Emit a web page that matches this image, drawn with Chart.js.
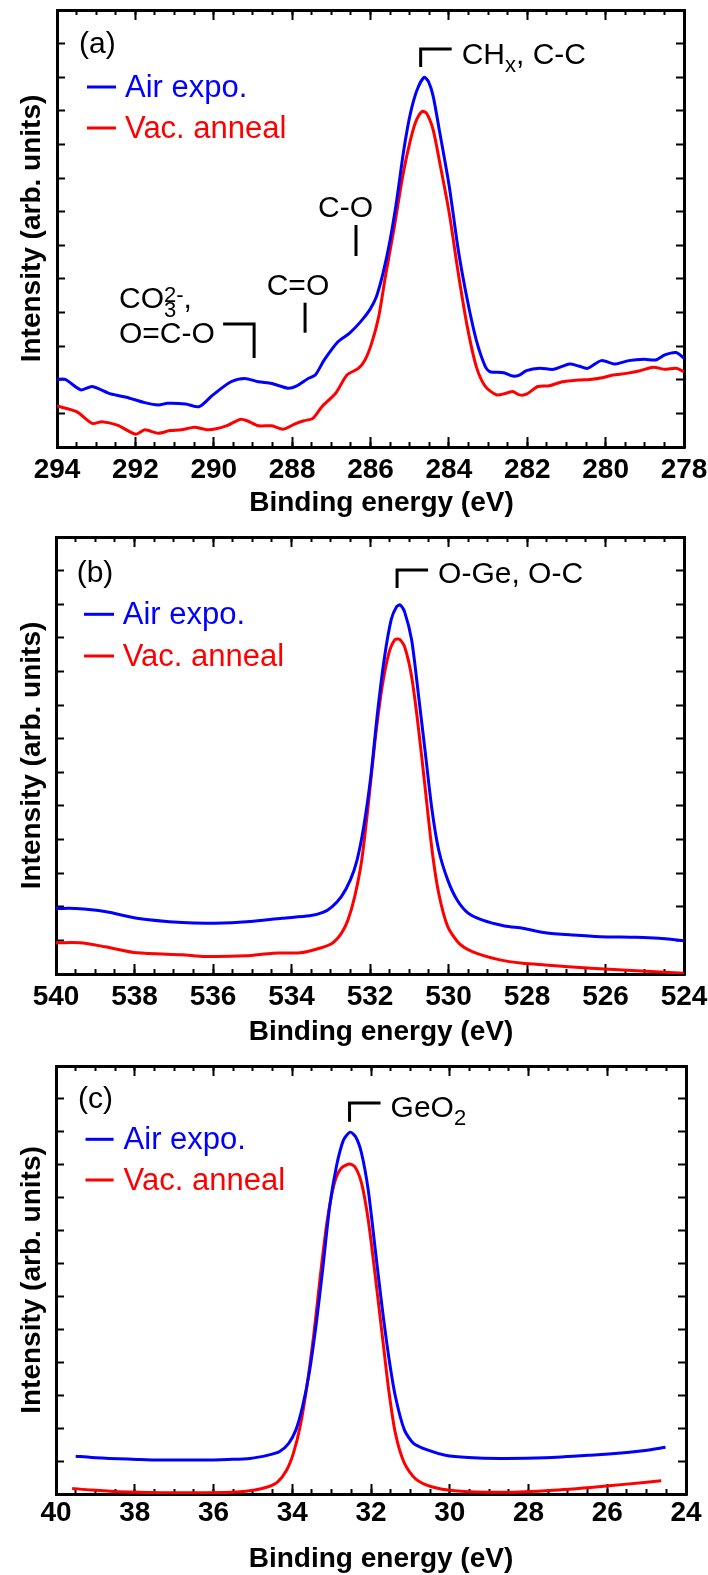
<!DOCTYPE html>
<html>
<head>
<meta charset="utf-8">
<script src="https://cdn.jsdelivr.net/npm/chart.js@4.4.1/dist/chart.umd.min.js"></script>
<style>
html,body{margin:0;padding:0;background:#fff;}
#wrap{position:relative;width:708px;height:1575px;overflow:hidden;background:#fff;}
canvas{position:absolute;left:0;}
</style>
</head>
<body>
<div id="wrap">
<canvas id="ca" width="708" height="520" style="top:0px;width:708px;height:520px"></canvas>
<canvas id="cb" width="708" height="535" style="top:520px;width:708px;height:535px"></canvas>
<canvas id="cc" width="708" height="530" style="top:1045px;width:708px;height:530px"></canvas>
</div>
<script>
// ---------- text ----------
const seriesNames = ['Air expo.', 'Vac. anneal'];
const panelLabels = ['(a)', '(b)', '(c)'];
const xTitle = 'Binding energy (eV)';
const yTitle = 'Intensity (arb. units)';

// ---------- tick labels ----------
const c1sTicks = [294, 292, 290, 288, 286, 284, 282, 280, 278];
const o1sTicks = [540, 538, 536, 534, 532, 530, 528, 526, 524];
const ge3dTicks = [40, 38, 36, 34, 32, 30, 28, 26, 24];

// ---------- (a) C 1s ----------
const c1sAirE = [294.00, 293.79, 293.39, 293.10, 292.63, 292.23, 291.76, 291.41, 291.18, 290.72, 290.37, 290.02, 289.56, 289.21, 288.86, 288.52, 288.11, 287.88, 287.59, 287.41, 287.18, 286.83, 286.54, 286.25, 286.02, 285.85, 285.68, 285.50, 285.33, 285.15, 284.98, 284.81, 284.63, 284.52, 284.40, 284.23, 283.99, 283.76, 283.53, 283.30, 283.07, 282.95, 282.60, 282.37, 282.20, 282.02, 281.68, 281.33, 280.92, 280.69, 280.46, 280.11, 279.76, 279.41, 279.01, 278.72, 278.49, 278.20, 278.00];
const c1sAirI = [2.01, 2.01, 1.70, 1.80, 1.58, 1.48, 1.32, 1.25, 1.30, 1.28, 1.20, 1.55, 1.94, 2.04, 1.94, 1.89, 1.75, 1.82, 2.04, 2.14, 2.59, 3.13, 3.38, 3.73, 4.08, 4.47, 5.17, 6.16, 7.35, 8.84, 9.93, 10.63, 11.00, 10.87, 10.43, 9.34, 7.75, 5.86, 4.38, 3.18, 2.39, 2.24, 2.21, 2.11, 2.14, 2.27, 2.34, 2.31, 2.47, 2.41, 2.34, 2.57, 2.47, 2.57, 2.61, 2.59, 2.74, 2.81, 2.64];
const c1sVacE = [294.00, 293.50, 293.10, 292.86, 292.46, 291.99, 291.76, 291.41, 291.12, 290.83, 290.49, 290.14, 289.68, 289.33, 289.15, 288.86, 288.52, 288.23, 287.94, 287.70, 287.47, 287.24, 286.89, 286.60, 286.31, 286.14, 285.97, 285.79, 285.62, 285.39, 285.21, 285.04, 284.86, 284.69, 284.57, 284.40, 284.23, 283.99, 283.76, 283.53, 283.30, 283.07, 282.78, 282.54, 282.37, 282.20, 282.02, 281.73, 281.44, 281.10, 280.69, 280.40, 280.05, 279.82, 279.47, 279.12, 278.78, 278.49, 278.20, 278.00];
const c1sVacI = [1.22, 1.05, 0.70, 0.75, 0.65, 0.38, 0.51, 0.41, 0.49, 0.51, 0.59, 0.51, 0.63, 0.82, 0.78, 0.63, 0.63, 0.53, 0.68, 0.78, 0.85, 1.20, 1.60, 2.14, 2.34, 2.59, 3.09, 3.88, 5.07, 6.56, 7.85, 8.84, 9.63, 9.98, 9.93, 9.43, 8.44, 6.95, 5.17, 3.58, 2.39, 1.80, 1.55, 1.60, 1.65, 1.55, 1.57, 1.80, 1.82, 1.94, 1.99, 2.01, 2.07, 2.14, 2.19, 2.27, 2.37, 2.31, 2.34, 2.24];

// ---------- (b) O 1s ----------
const o1sAirE = [540.00, 539.50, 538.75, 537.94, 536.78, 535.97, 535.05, 534.24, 533.54, 533.20, 532.97, 532.73, 532.50, 532.33, 532.16, 531.98, 531.81, 531.64, 531.46, 531.32, 531.23, 531.12, 530.94, 530.77, 530.59, 530.42, 530.25, 530.02, 529.78, 529.50, 529.15, 528.57, 528.11, 527.53, 526.83, 526.14, 525.21, 524.64, 524.00];
const o1sAirI = [1.95, 1.95, 1.86, 1.66, 1.53, 1.51, 1.56, 1.66, 1.73, 1.83, 2.00, 2.30, 2.80, 3.39, 4.38, 5.87, 7.76, 9.35, 10.54, 10.93, 10.98, 10.78, 9.94, 8.35, 6.57, 4.88, 3.69, 2.80, 2.20, 1.81, 1.61, 1.43, 1.36, 1.23, 1.16, 1.11, 1.09, 1.06, 0.99];
const o1sVacE = [540.00, 539.39, 538.75, 537.94, 536.78, 536.21, 535.16, 534.47, 533.78, 533.31, 532.97, 532.73, 532.56, 532.39, 532.21, 532.04, 531.87, 531.69, 531.52, 531.37, 531.25, 531.12, 530.94, 530.77, 530.59, 530.42, 530.25, 530.02, 529.73, 529.38, 528.69, 528.11, 527.53, 526.37, 525.21, 524.00];
const o1sVacI = [0.93, 0.93, 0.81, 0.63, 0.57, 0.52, 0.54, 0.62, 0.63, 0.76, 0.91, 1.21, 1.61, 2.30, 3.39, 5.08, 6.96, 8.55, 9.54, 9.94, 9.96, 9.74, 8.85, 7.36, 5.48, 3.69, 2.40, 1.41, 0.91, 0.66, 0.42, 0.32, 0.27, 0.17, 0.10, 0.02];

// ---------- (c) Ge 3d ----------
const ge3dAirE = [39.50, 39.10, 38.41, 37.95, 37.37, 36.80, 36.22, 35.64, 35.07, 34.61, 34.32, 34.09, 33.91, 33.74, 33.57, 33.39, 33.22, 33.05, 32.88, 32.70, 32.53, 32.39, 32.24, 32.07, 31.90, 31.72, 31.55, 31.38, 31.15, 30.92, 30.57, 30.11, 29.53, 28.73, 27.57, 26.42, 25.50, 25.04, 24.52];
const ge3dAirI = [1.15, 1.11, 1.07, 1.05, 1.03, 1.03, 1.03, 1.05, 1.08, 1.18, 1.29, 1.54, 1.94, 2.65, 3.67, 5.18, 6.90, 8.73, 9.94, 10.75, 10.99, 10.85, 10.35, 9.23, 7.51, 5.69, 4.17, 2.96, 1.94, 1.54, 1.34, 1.18, 1.11, 1.08, 1.10, 1.18, 1.26, 1.32, 1.42];
const ge3dVacE = [39.59, 39.10, 38.41, 37.37, 36.22, 35.41, 34.95, 34.61, 34.37, 34.14, 33.97, 33.80, 33.63, 33.45, 33.28, 33.11, 32.93, 32.76, 32.55, 32.41, 32.24, 32.07, 31.90, 31.72, 31.55, 31.38, 31.15, 30.86, 30.46, 29.88, 28.73, 27.57, 26.42, 25.50, 24.63];
const ge3dVacI = [0.17, 0.12, 0.07, 0.04, 0.04, 0.06, 0.12, 0.22, 0.37, 0.73, 1.24, 2.05, 3.26, 4.88, 6.70, 8.32, 9.44, 9.89, 10.02, 9.94, 9.44, 8.32, 6.70, 4.88, 3.16, 1.84, 0.93, 0.45, 0.22, 0.10, 0.05, 0.10, 0.20, 0.30, 0.40];

// ---------- peak assignment energies (eV) ----------
const c1sMarks = { chx: 284.72, co: 286.37, cdo: 287.67, co3: 288.97 };
const o1sMarks = { oge: 531.31 };
const ge3dMarks = { geo2: 32.545 };

// ---------- drawing ----------
const FONT = "'Liberation Sans', Arial, Helvetica, sans-serif";
const COLORS = ['#0000ff', '#ff0000'];

const annotPlugin = {
  id: 'annot',
  afterDraw(chart, args, o) {
    const ctx = chart.ctx, ca = chart.chartArea, xs = chart.scales.x;
    const L = ca.left, T = ca.top;
    const f = s => s + 'px ' + FONT;
    ctx.save();
    ctx.textBaseline = 'alphabetic';
    ctx.textAlign = 'left';
    // x-axis title
    ctx.fillStyle = '#000';
    ctx.font = 'bold 28px ' + FONT;
    ctx.textAlign = 'center';
    ctx.fillText(xTitle, (ca.left + ca.right) / 2 + o.xTitle[0], ca.bottom + o.xTitle[1]);
    ctx.textAlign = 'left';
    // panel label
    ctx.font = f(30);
    ctx.fillText(o.label, L + o.labelPos[0], T + o.labelPos[1]);
    // legend
    chart.data.datasets.forEach((ds, i) => {
      const y = T + o.legend.rows[i];
      ctx.strokeStyle = ds.borderColor;
      ctx.lineWidth = 3;
      ctx.beginPath();
      ctx.moveTo(L + o.legend.x0, y);
      ctx.lineTo(L + o.legend.x1, y);
      ctx.stroke();
      ctx.fillStyle = ds.borderColor;
      ctx.font = f(31);
      ctx.fillText(ds.label, L + o.legend.tx, y + 10);
    });
    // peak markers and labels
    ctx.strokeStyle = '#000';
    ctx.fillStyle = '#000';
    ctx.lineWidth = 3;
    ctx.lineJoin = 'miter';
    ctx.lineCap = 'butt';
    o.items.forEach(it => {
      if (it.type === 'mark') {
        const xe = xs.getPixelForValue(it.e);
        ctx.beginPath();
        if (it.len) { ctx.moveTo(xe + it.len, T + it.y0); ctx.lineTo(xe, T + it.y0); }
        else { ctx.moveTo(xe, T + it.y0); }
        ctx.lineTo(xe, T + it.y1);
        ctx.stroke();
      } else if (it.type === 'text') {
        let x = (it.e !== undefined) ? xs.getPixelForValue(it.e) + it.x : L + it.x;
        let stackW = 0;
        it.runs.forEach(r => {
          ctx.font = f(r.size || 30);
          const w = ctx.measureText(r.t).width;
          ctx.fillText(r.t, x, T + it.y + (r.dy || 0));
          if (r.stack) { stackW = w; } else { x += Math.max(w, stackW); stackW = 0; }
        });
      }
    });
    ctx.restore();
  }
};

function series(E, I) { return E.map((e, i) => ({ x: e, y: I[i] })); }

function buildPanel(id, p) {
  const canvas = document.getElementById(id);
  const W = canvas.width;
  const tickFont = { family: FONT, size: 28, weight: 'bold' };
  const hAxis = (pos, major, weight) => ({
    type: 'linear', position: pos, weight: weight,
    min: p.xMin, max: p.xMax, reverse: true,
    afterBuildTicks: major ? (s => { s.ticks = p.ticks.map(v => ({ value: v })); }) : undefined,
    afterFit: s => {
      s.height = (pos === 'bottom') ? (major ? p.xH : 0) : (major ? p.T : 0);
      s.paddingLeft = 0; s.paddingRight = 0; s.paddingTop = 0; s.paddingBottom = 0;
    },
    border: { display: major, width: 3, color: '#000' },
    grid: { drawOnChartArea: false, drawTicks: true, tickLength: major ? -10 : -5, tickWidth: 2, tickColor: '#000' },
    ticks: major
      ? { display: pos === 'bottom', autoSkip: false, maxRotation: 0, minRotation: 0, padding: p.tickPad, color: '#000', font: tickFont, callback: v => String(v) }
      : { display: false, stepSize: 0.5, maxTicksLimit: 1000 },
    title: { display: false, text: (pos === 'bottom' && major) ? xTitle : '' }
  });
  const vAxis = (pos) => ({
    type: 'linear', position: pos, min: 0, max: 13,
    afterFit: s => {
      s.width = (pos === 'left') ? p.L : (W - p.R);
      s.paddingTop = 0; s.paddingBottom = 0; s.paddingLeft = 0; s.paddingRight = 0;
    },
    border: { display: true, width: 3, color: '#000' },
    grid: { drawOnChartArea: false, drawTicks: true, tickLength: -8, tickWidth: 2, tickColor: '#000' },
    ticks: { display: false, stepSize: 1, maxTicksLimit: 1000 },
    title: (pos === 'left')
      ? { display: true, text: yTitle, color: '#000', font: tickFont, padding: { top: 15.5, bottom: 0 } }
      : { display: false }
  });

  return new Chart(canvas, {
    type: 'line',
    data: {
      datasets: [
        { label: seriesNames[0], data: series(p.airE, p.airI), borderColor: COLORS[0], backgroundColor: COLORS[0], borderWidth: 3, pointRadius: 0, tension: 0.25, fill: false, xAxisID: 'x', yAxisID: 'y' },
        { label: seriesNames[1], data: series(p.vacE, p.vacI), borderColor: COLORS[1], backgroundColor: COLORS[1], borderWidth: 3, pointRadius: 0, tension: 0.25, fill: false, xAxisID: 'x', yAxisID: 'y' }
      ]
    },
    options: {
      responsive: false,
      animation: false,
      devicePixelRatio: 1,
      layout: { padding: { left: 0, right: 0, top: 0, bottom: 0 } },
      plugins: { legend: { display: false }, tooltip: { enabled: false }, annot: p.annot },
      scales: {
        xMinor: hAxis('bottom', false, 0),
        x: hAxis('bottom', true, 1),
        xTopMinor: hAxis('top', false, 0),
        xTop: hAxis('top', true, 1),
        y: vAxis('left'),
        y2: vAxis('right')
      }
    },
    plugins: [annotPlugin]
  });
}

buildPanel('ca', {
  xMin: 278, xMax: 294, ticks: c1sTicks,
  airE: c1sAirE, airI: c1sAirI, vacE: c1sVacE, vacI: c1sVacI,
  L: 57, R: 684, T: 10, xH: 73, tickPad: 16,
  annot: {
    xTitle: [11, 63.7],
    label: panelLabels[0], labelPos: [22, 43],
    legend: { x0: 30, x1: 59, tx: 68, rows: [77, 118] },
    items: [
      { type: 'mark', e: c1sMarks.chx, len: 31, y0: 39, y1: 57 },
      { type: 'text', e: c1sMarks.chx, x: 41, y: 53.5, runs: [{ t: 'CH' }, { t: 'x', size: 22, dy: 8 }, { t: ', C-C' }] },
      { type: 'mark', e: c1sMarks.co, y0: 215, y1: 246 },
      { type: 'text', x: 261, y: 206.7, runs: [{ t: 'C-O' }] },
      { type: 'mark', e: c1sMarks.cdo, y0: 292.7, y1: 322.7 },
      { type: 'text', x: 209.7, y: 285, runs: [{ t: 'C=O' }] },
      { type: 'mark', e: c1sMarks.co3, len: -31, y0: 314, y1: 348 },
      { type: 'text', x: 62, y: 298, runs: [{ t: 'CO' }, { t: '3', size: 22, dy: 9, stack: true }, { t: '2-', size: 22, dy: -6 }, { t: ',' }] },
      { type: 'text', x: 62, y: 332.7, runs: [{ t: 'O=C-O' }] }
    ]
  }
});

buildPanel('cb', {
  xMin: 524, xMax: 540, ticks: o1sTicks,
  airE: o1sAirE, airI: o1sAirI, vacE: o1sVacE, vacI: o1sVacI,
  L: 56, R: 684, T: 17, xH: 81, tickPad: 16,
  annot: {
    xTitle: [11, 65.5],
    label: panelLabels[1], labelPos: [20.7, 44.7],
    legend: { x0: 28, x1: 58, tx: 66.7, rows: [77.3, 119] },
    items: [
      { type: 'mark', e: o1sMarks.oge, len: 31, y0: 33, y1: 51 },
      { type: 'text', e: o1sMarks.oge, x: 41, y: 46.3, runs: [{ t: 'O-Ge, O-C' }] }
    ]
  }
});

buildPanel('cc', {
  xMin: 24, xMax: 40, ticks: ge3dTicks,
  airE: ge3dAirE, airI: ge3dAirI, vacE: ge3dVacE, vacI: ge3dVacI,
  L: 56, R: 686, T: 21, xH: 81, tickPad: 12.7,
  annot: {
    xTitle: [10, 72.5],
    label: panelLabels[2], labelPos: [22, 42],
    legend: { x0: 29.5, x1: 57.6, tx: 67.6, rows: [73.3, 114] },
    items: [
      { type: 'mark', e: ge3dMarks.geo2, len: 31, y0: 37, y1: 55.7 },
      { type: 'text', e: ge3dMarks.geo2, x: 41, y: 51.3, runs: [{ t: 'GeO' }, { t: '2', size: 22, dy: 8 }] }
    ]
  }
});
</script>
</body>
</html>
